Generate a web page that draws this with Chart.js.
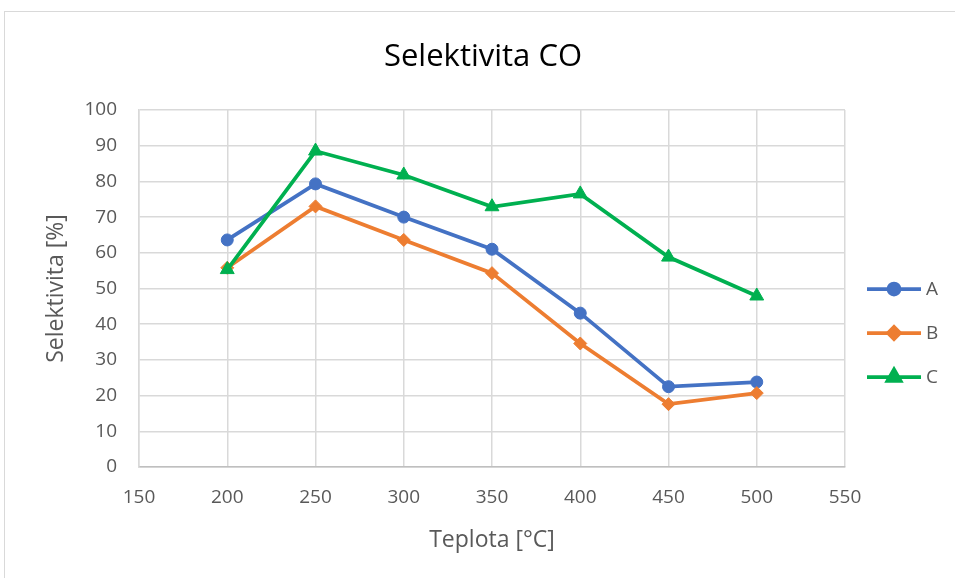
<!DOCTYPE html>
<html>
<head>
<meta charset="utf-8">
<script src="https://cdn.jsdelivr.net/npm/chart.js@4"></script>
<style>
    html, body { margin: 0; padding: 0; background: #fff; }
    #frame { position: absolute; left: 4px; top: 11px; width: 960px; height: 580px; border: 1px solid #d9d9d9; box-sizing: border-box; }
    #wrap { position: absolute; left: 0; top: 0; width: 955px; height: 578px; }
</style>
</head>
<body>
<div id="frame"></div>
<div id="wrap"><canvas id="chart" width="955" height="578"></canvas></div>
<script>
// Selektivita CO vs teplota
const temperatures = [200, 250, 300, 350, 400, 450, 500];
const seriesA = [63.6, 79.3, 70.0, 61.0, 43.1, 22.5, 23.8];
const seriesB = [55.8, 73.0, 63.6, 54.3, 34.6, 17.6, 20.7];
const seriesC = [55.3, 88.5, 81.8, 72.9, 76.5, 58.8, 47.9];
const seriesNames = ['A', 'B', 'C'];
const seriesColors = ['#4472C4', '#ED7D31', '#00B050'];
const markerStyles = ['circle', 'rectRot', 'triangle'];
const markerSizes = [6, 6.5, 8];

const chartTitle = 'Selektivita CO';
const textGray = '#595959';
const font = "'Open Sans', 'Noto Sans', sans-serif";

function toPoints(values) {
    return temperatures.map((t, i) => ({ x: t, y: values[i] }));
}

const allSeries = [seriesA, seriesB, seriesC];
const datasets = allSeries.map((values, i) => ({
    label: seriesNames[i],
    data: toPoints(values),
    borderColor: seriesColors[i],
    backgroundColor: seriesColors[i],
    borderWidth: 3.75,
    pointStyle: markerStyles[i],
    pointRadius: markerSizes[i],
    pointBorderWidth: 1,
    tension: 0,
    order: 3 - i
}));

// title centred on the whole frame, like Excel
const frameTitle = {
    id: 'frameTitle',
    afterDraw(chart) {
        const c = chart.ctx;
        c.save();
        c.fillStyle = '#000';
        c.font = '31px ' + font;
        c.textAlign = 'center';
        c.textBaseline = 'middle';
        c.fillText(chartTitle, 483, 57);
        c.restore();
    }
};

// Excel-like legend: short line with marker through it
const sideLegend = {
    id: 'sideLegend',
    afterDraw(chart) {
        const c = chart.ctx;
        const x0 = 867, x1 = 921;
        const rows = [289, 333, 377];
        chart.data.datasets.forEach((ds, i) => {
            const y = rows[i];
            c.save();
            c.strokeStyle = ds.borderColor;
            c.lineWidth = 3.75;
            c.beginPath();
            c.moveTo(x0, y);
            c.lineTo(x1, y);
            c.stroke();
            c.fillStyle = ds.backgroundColor;
            c.strokeStyle = ds.borderColor;
            Chart.helpers.drawPoint(c, {
                pointStyle: ds.pointStyle,
                radius: ds.pointRadius - 0.5,
                borderWidth: 1
            }, 894, y);
            c.fillStyle = textGray;
            c.font = '19px ' + font;
            c.textBaseline = 'middle';
            c.fillText(ds.label, 926, y + 1);
            c.restore();
        });
    }
};

new Chart(document.getElementById('chart').getContext('2d'), {
    type: 'line',
    data: { datasets: datasets },
    plugins: [frameTitle, sideLegend],
    options: {
        responsive: false,
        animation: false,
        layout: { padding: { left: 0, right: 110, top: 110, bottom: 0 } },
        plugins: {
            legend: { display: false },
            tooltip: { enabled: false },
            title: { display: false }
        },
        scales: {
            x: {
                type: 'linear',
                min: 150,
                max: 550,
                afterFit: (scale) => { scale.height = 111; },
                ticks: { stepSize: 50, color: textGray, font: { family: font, size: 19 }, padding: 19 },
                grid: { color: '#d9d9d9', lineWidth: 1.5, drawTicks: false },
                border: { color: '#bfbfbf', width: 1.5 },
                title: { display: true, text: 'Teplota [°C]', color: textGray, font: { family: font, size: 23 }, padding: { top: 24, bottom: 24 } }
            },
            y: {
                min: 0,
                max: 100,
                afterFit: (scale) => { scale.width = 139; },
                ticks: { stepSize: 10, color: textGray, font: { family: font, size: 19 }, padding: 22 },
                grid: { color: '#d9d9d9', lineWidth: 1.5, drawTicks: false },
                border: { color: '#d9d9d9', width: 1.5 },
                title: { display: true, text: 'Selektivita [%]', color: textGray, font: { family: font, size: 23 }, padding: { top: 43, bottom: 43 } }
            }
        }
    }
});
</script>
</body>
</html>
